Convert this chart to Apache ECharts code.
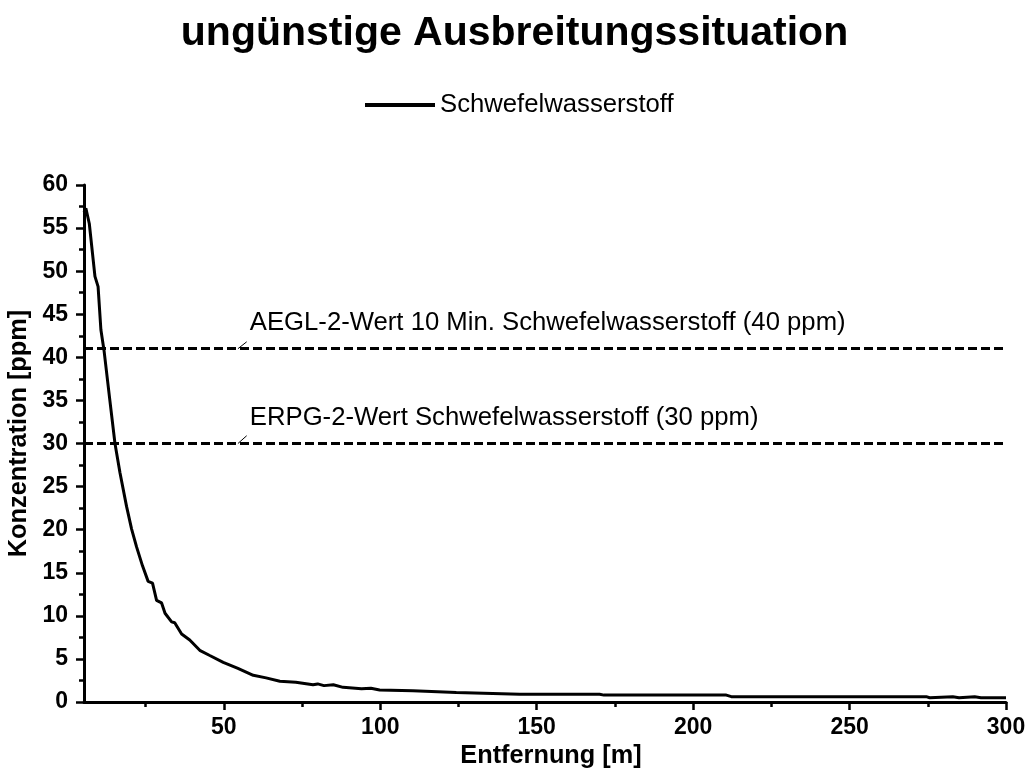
<!DOCTYPE html>
<html>
<head>
<meta charset="utf-8">
<script src="https://cdn.jsdelivr.net/npm/echarts@6/dist/echarts.min.js"></script>
<style>
    html, body { margin: 0; padding: 0; background: #fff; }
    #chart { width: 1029px; height: 772px; }
</style>
</head>
<body>
<div id="chart"></div>
<script>
// Entfernung [m] und Konzentration [ppm]
const distance = [5.3, 5.9, 7.0, 8.8, 9.8, 10.7, 11.7, 13.5, 15.2, 16.8, 18.9, 20.5, 22.1, 24.0, 25.8, 27.2, 28.5, 30.1, 31.2, 33.3, 34.3, 36.5, 39.1, 42.3, 45.5, 49.8, 54.5, 59.4, 63.5, 67.9, 73, 78.5, 80, 82, 85, 88.1, 94, 97, 99.8, 110.4, 124.3, 144.6, 170.1, 171.5, 210.6, 212.2, 274.5, 275.6, 283, 285, 290, 292, 300];
const concentration = [56.8, 57.3, 55.5, 49.4, 48.2, 43.2, 40.8, 35.2, 30.0, 26.6, 22.7, 20.1, 18.0, 15.8, 14.0, 13.8, 11.8, 11.5, 10.3, 9.3, 9.2, 7.9, 7.2, 6.0, 5.4, 4.6, 3.9, 3.1, 2.8, 2.4, 2.3, 2.0, 2.1, 1.9, 2.0, 1.7, 1.55, 1.6, 1.4, 1.3, 1.1, 0.9, 0.9, 0.8, 0.8, 0.62, 0.62, 0.5, 0.6, 0.5, 0.6, 0.5, 0.5];

// Grenzwerte (gestrichelte Linien)
const limitValues = [41, 30];
const limitLabels = ['AEGL-2-Wert 10 Min. Schwefelwasserstoff (40 ppm)', 'ERPG-2-Wert Schwefelwasserstoff (30 ppm)'];
// Position der Beschriftungen [x, y] und kleine Zeigerlinien
const labelPos = [[58.3, 44.0], [58.3, 33.0]];
const pointerFrom = [[54.5, 41], [54.5, 30]];
const pointerTo = [[57.3, 41.8], [57.3, 30.9]];

const xTicks = [50, 100, 150, 200, 250, 300];
const xMinorTicks = [25, 75, 125, 175, 225, 275];

const font = 'Liberation Sans, Arial, sans-serif';

var myChart = echarts.init(document.getElementById('chart'));

var markLineData = limitValues.map(v => ({ yAxis: v, lineStyle: { type: [9, 4], width: 3, color: '#000' } }));
pointerFrom.forEach((p, i) => {
    markLineData.push([
        { coord: p, lineStyle: { type: 'solid', width: 1, color: '#000' } },
        { coord: pointerTo[i] }
    ]);
});

var option = {
    animation: false,
    title: {
        text: 'ungünstige Ausbreitungssituation',
        left: 'center',
        top: 8,
        textStyle: { fontFamily: font, fontSize: 41, fontWeight: 'bold', color: '#000' }
    },
    legend: {
        data: [{ name: 'Schwefelwasserstoff', icon: 'rect' }],
        left: 360,
        top: 87,
        itemWidth: 70,
        itemHeight: 4,
        itemGap: 12,
        itemStyle: { color: '#000' },
        textStyle: { fontFamily: font, fontSize: 25.7, color: '#000' }
    },
    grid: { left: 84, right: 23, top: 185, bottom: 70, outerBoundsMode: 'none', containLabel: false },
    xAxis: [
        {
            type: 'value',
            position: 'bottom',
            min: 5.3,
            max: 300,
            name: 'Entfernung [m]',
            nameLocation: 'middle',
            nameGap: 42,
            nameTextStyle: { fontFamily: font, fontSize: 25.3, fontWeight: 'bold', color: '#000', padding: [0, 0, 0, 12] },
            axisLine: { onZero: false, lineStyle: { color: '#000', width: 3 } },
            axisTick: { show: true, customValues: xTicks, length: 8, lineStyle: { color: '#000', width: 2.5 } },
            axisLabel: { customValues: xTicks, margin: 14, fontFamily: font, fontSize: 23, fontWeight: 'bold', color: '#000' },
            splitLine: { show: false }
        },
        {
            type: 'value',
            position: 'bottom',
            min: 5.3,
            max: 300,
            axisLine: { show: false },
            axisTick: { show: true, customValues: xMinorTicks, length: 5, lineStyle: { color: '#000', width: 2.5 } },
            axisLabel: { show: false },
            splitLine: { show: false }
        }
    ],
    yAxis: {
        type: 'value',
        min: 0,
        max: 60,
        interval: 5,
        name: 'Konzentration [ppm]',
        nameLocation: 'middle',
        nameGap: 50,
        nameTextStyle: { fontFamily: font, fontSize: 25.3, fontWeight: 'bold', color: '#000', padding: [0, 0, 0, 20] },
        axisLine: { show: true, lineStyle: { color: '#000', width: 3 } },
        axisTick: { show: true, length: 8, lineStyle: { color: '#000', width: 2.5 } },
        minorTick: { show: true, splitNumber: 2, length: 5, lineStyle: { color: '#000', width: 2.5 } },
        axisLabel: { margin: 16, fontFamily: font, fontSize: 23, fontWeight: 'bold', color: '#000' },
        splitLine: { show: false }
    },
    series: [
        {
            name: 'Schwefelwasserstoff',
            type: 'line',
            symbol: 'none',
            data: distance.map((d, i) => [d, concentration[i]]),
            lineStyle: { color: '#000', width: 3 },
            itemStyle: { color: '#000' },
            markLine: {
                silent: true,
                symbol: ['none', 'none'],
                label: { show: false },
                data: markLineData
            },
            markPoint: {
                silent: true,
                symbol: 'circle',
                symbolSize: 0,
                label: {
                    show: true,
                    position: 'right',
                    distance: 0,
                    fontFamily: font,
                    fontSize: 25.7,
                    color: '#000',
                    formatter: p => p.name
                },
                data: labelPos.map((p, i) => ({ name: limitLabels[i], coord: p }))
            }
        }
    ]
};

myChart.setOption(option);
window.addEventListener('resize', () => {
    myChart.resize();
});
</script>
</body>
</html>
